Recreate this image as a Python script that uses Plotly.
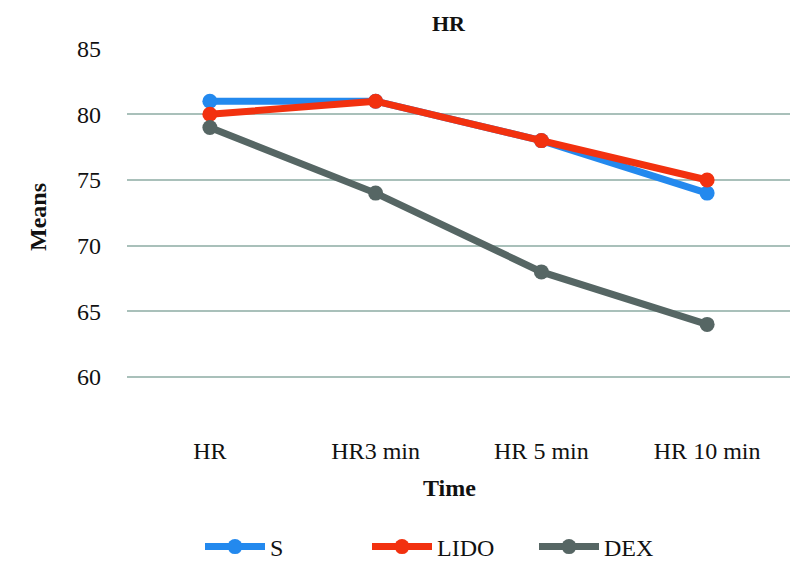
import plotly.graph_objects as go

categories = ["HR", "HR3 min", "HR 5 min", "HR 10 min"]
s_vals = [81, 81, 78, 74]
lido_vals = [80, 81, 78, 75]
dex_vals = [79, 74, 68, 64]
y_ticks = [60, 65, 70, 75, 80, 85]

series = [
    ("S", s_vals, "#2389EE"),
    ("LIDO", lido_vals, "#F2310F"),
    ("DEX", dex_vals, "#566664"),
]

FONT = "Liberation Serif"
L, R, T, B = 127, 4, 48, 199
W_plot = 794 - L - R
H_plot = 577 - T - B

def px2paper(px, py):
    return (px - L) / W_plot, 1 - (py - T) / H_plot

fig = go.Figure()
for name, vals, col in series:
    fig.add_trace(go.Scatter(
        x=categories, y=vals, name=name, mode="lines+markers",
        line=dict(color=col, width=7),
        marker=dict(color=col, size=15),
    ))

lx, ly = px2paper(200, 547)
fig.update_layout(
    width=794, height=577,
    margin=dict(l=L, r=R, t=T, b=B, autoexpand=False),
    plot_bgcolor="white", paper_bgcolor="white",
    font=dict(family=FONT, size=24, color="#111111"),
    showlegend=True,
    legend=dict(orientation="h", x=lx, xanchor="left", y=ly, yanchor="middle",
                font=dict(size=24, family=FONT), itemwidth=60, traceorder="normal",
                entrywidth=92, entrywidthmode="pixels"),
    xaxis=dict(range=[-0.5, 3.5], showgrid=False, showline=False, zeroline=False,
               ticks="", ticklabelstandoff=56, tickfont=dict(size=24, family=FONT)),
    yaxis=dict(range=[59.92, 85.05], tickvals=y_ticks, showgrid=True, gridcolor="#A9C0BA",
               gridwidth=2, zeroline=False, showline=False, ticks="",
               ticklabelstandoff=25, tickfont=dict(size=24, family=FONT)),
)

anns = [("<b>HR</b>", 449, 23, 22, 0), ("<b>Means</b>", 38, 217, 24, -90), ("<b>Time</b>", 449, 488, 24, 0)]
for text, px, py, size, ang in anns:
    ax, ay = px2paper(px, py)
    fig.add_annotation(text=text, x=ax, y=ay, xref="paper", yref="paper", showarrow=False,
                       xanchor="center", yanchor="middle", textangle=ang,
                       font=dict(size=size, family=FONT))

fig.write_html("out.html")
